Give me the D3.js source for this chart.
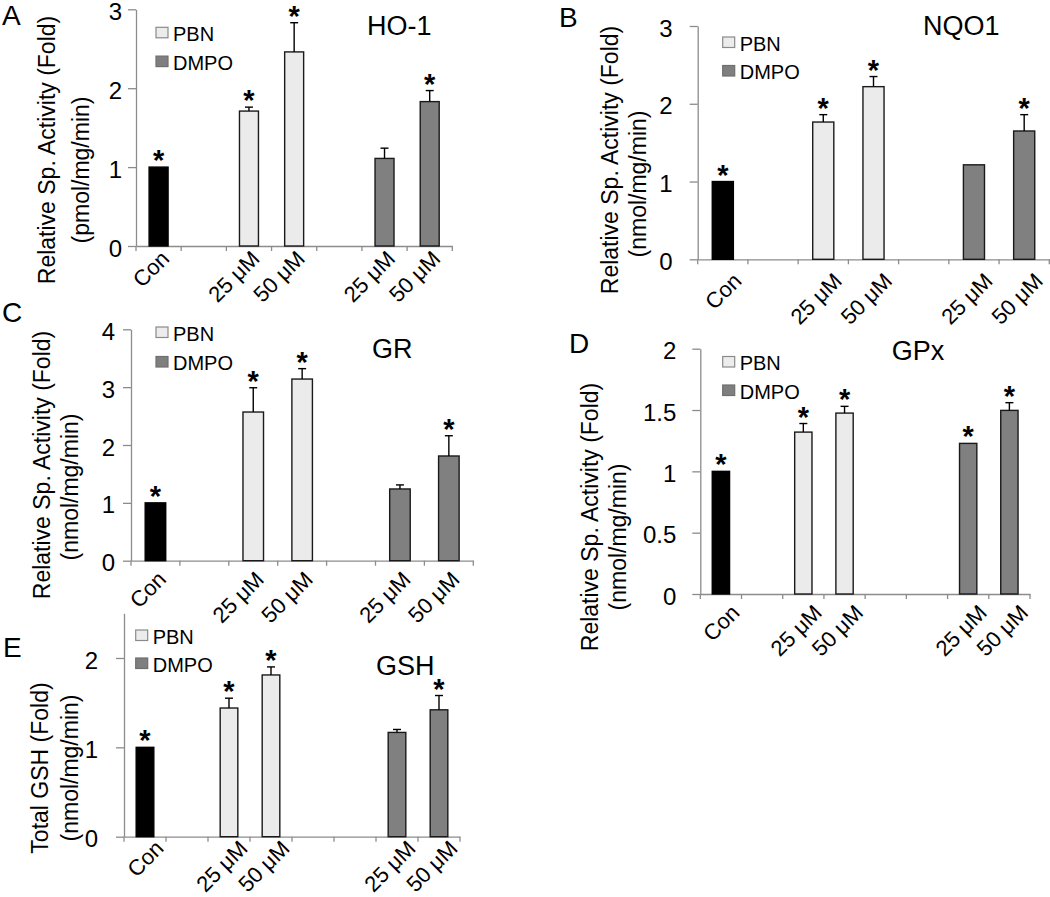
<!DOCTYPE html>
<html><head><meta charset="utf-8">
<script src="https://cdn.jsdelivr.net/npm/d3@7"></script>
<style>
body{margin:0;background:#fff}
svg{display:block}
text{font-family:"Liberation Sans", Arial, sans-serif; fill:#000}
</style>
</head><body>
<svg id="chart" width="1050" height="897"></svg>
<script>
// ---------- data ----------
const catsSeven = ["Con", "", "25 μM", "50 μM", "", "25 μM", "50 μM"];
const groupsSeven = ["Con", "", "PBN", "PBN", "", "DMPO", "DMPO"];
const catsEight = ["Con", "", "25 μM", "50 μM", "", "", "25 μM", "50 μM"];
const groupsEight = ["Con", "", "PBN", "PBN", "", "", "DMPO", "DMPO"];
const legendLabels = ["PBN", "DMPO"];

const ho1Values = [1.00, null, 1.71, 2.46, null, 1.11, 1.83];
const ho1Errors = [0, null, 0.05, 0.37, null, 0.13, 0.14];
const ho1Stars  = [true, false, true, true, false, false, true];

const nqo1Values = [1.00, null, 1.765, 2.22, null, 1.215, 1.65];
const nqo1Errors = [0, null, 0.095, 0.13, null, 0, 0.21];
const nqo1Stars  = [true, false, true, true, false, false, true];

const grValues = [1.00, null, 2.57, 3.14, null, 1.24, 1.81];
const grErrors = [0, null, 0.42, 0.18, null, 0.07, 0.35];
const grStars  = [true, false, true, true, false, false, true];

const gpxValues = [1.00, null, 1.32, 1.475, null, null, 1.228, 1.497];
const gpxErrors = [0, null, 0.07, 0.055, null, null, 0, 0.063];
const gpxStars  = [true, false, true, true, false, false, true, true];

const gshValues = [1.00, null, 1.44, 1.81, null, null, 1.167, 1.42];
const gshErrors = [0, null, 0.11, 0.09, null, null, 0.033, 0.16];
const gshStars  = [true, false, true, true, false, false, false, true];

const ticksHO1 = [0, 1, 2, 3];
const ticksNQO1 = [0, 1, 2, 3];
const ticksGR = [0, 1, 2, 3, 4];
const ticksGPx = [0, 0.5, 1, 1.5, 2];
const ticksGSH = [0, 1, 2];

// ---------- styles ----------
const fills = {Con: "#000000", PBN: "#ebebeb", DMPO: "#808080"};
const strokes = {Con: "#000000", PBN: "#1a1a1a", DMPO: "#1a1a1a"};
const legFill = {PBN: "#ececec", DMPO: "#7f7f7f"};
const legStroke = {PBN: "#8a8a8a", DMPO: "#6e6e6e"};
const axisColor = "#8c8c8c";

const panels = [
  {letter:"A", title:"HO-1", cats:catsSeven, groups:groupsSeven, values:ho1Values, errors:ho1Errors, stars:ho1Stars,
   ticks:ticksHO1, yMax:3, yLabel:["Relative Sp. Activity (Fold)", "(pmol/mg/min)"],
   L:{x0:136, x1:452.3, y0:246, y1:9.3, gap:14, letter:[2,25], title:[367,35], leg:[156,27.3,28.8],
      yl:[[47,150],[81,170]], xl:[12,14]}},
  {letter:"B", title:"NQO1", cats:catsSeven, groups:groupsSeven, values:nqo1Values, errors:nqo1Errors, stars:nqo1Stars,
   ticks:ticksNQO1, yMax:3, yLabel:["Relative Sp. Activity (Fold)", "(nmol/mg/min)"],
   L:{x0:697.7, x1:1049.3, y0:259.3, y1:26, gap:25, letter:[559,27], title:[923,35], leg:[722.7,37,28.5],
      yl:[[610,160],[638,184]], xl:[20,23]}},
  {letter:"C", title:"GR", cats:catsSeven, groups:groupsSeven, values:grValues, errors:grErrors, stars:grStars,
   ticks:ticksGR, yMax:4, yLabel:["Relative Sp. Activity (Fold)", "(nmol/mg/min)"],
   L:{x0:131, x1:473.3, y0:560.7, y1:329.3, gap:16, letter:[2,322], title:[372,358], leg:[156,327,29.5],
      yl:[[42,465],[70,487]], xl:[12,20]}},
  {letter:"D", title:"GPx", cats:catsEight, groups:groupsEight, values:gpxValues, errors:gpxErrors, stars:gpxStars,
   ticks:ticksGPx, yMax:2, yLabel:["Relative Sp. Activity (Fold)", "(nmol/mg/min)"],
   L:{x0:700.3, x1:1030, y0:594, y1:348.7, gap:24, letter:[569,353], title:[891.7,360], leg:[722.7,356.5,28.5],
      yl:[[590,517],[618,537]], xl:[20,20]}},
  {letter:"E", title:"GSH", cats:catsEight, groups:groupsEight, values:gshValues, errors:gshErrors, stars:gshStars,
   ticks:ticksGSH, yMax:2.5, yLabel:["Total GSH (Fold)", "(nmol/mg/min)"],
   L:{x0:124, x1:460, y0:836.7, y1:613.3, gap:26, letter:[3,657], title:[376,675], leg:[135.7,630,28],
      yl:[[40,768],[70,768]], xl:[20,13]}}
];

const svg = d3.select("#chart");
svg.append("rect").attr("width", 1050).attr("height", 897).attr("fill", "#fff");

panels.forEach(p => {
  const L = p.L;
  const g = svg.append("g");
  const n = p.cats.length;
  const x = d3.scaleBand().domain(d3.range(n)).range([L.x0, L.x1]).paddingInner(0).paddingOuter(0);
  const y = d3.scaleLinear().domain([0, p.yMax]).range([L.y0, L.y1]);
  const bw = x.bandwidth() * 0.42;

  // y axis
  const ya = g.append("g").attr("transform", `translate(${L.x0},0)`)
    .call(d3.axisLeft(y).tickValues(p.ticks).tickSize(8).tickSizeOuter(0).tickPadding(L.gap - 8).tickFormat(d => String(d)));
  ya.select(".domain").attr("stroke", axisColor).attr("stroke-width", 1.3);
  ya.selectAll(".tick line").attr("stroke", axisColor).attr("stroke-width", 1.3);
  ya.selectAll(".tick text").attr("font-size", 24).attr("dy", "0.42em")
    .attr("font-family", '"Liberation Sans", Arial, sans-serif').attr("fill", "#000");

  // x axis
  const xa = g.append("g").attr("transform", `translate(0,${L.y0})`)
    .call(d3.axisBottom(x).tickSize(0).tickSizeOuter(0).tickFormat(""));
  xa.select(".domain").attr("stroke", axisColor).attr("stroke-width", 1.3);
  const bounds = d3.range(n + 1).map(i => i < n ? x(i) : x(n - 1) + x.bandwidth());
  g.selectAll(".xb").data(bounds).join("line")
    .attr("x1", d => d).attr("x2", d => d).attr("y1", L.y0).attr("y2", L.y0 + 5)
    .attr("stroke", axisColor).attr("stroke-width", 1.3);

  // x labels
  p.cats.forEach((c, i) => {
    if (!c) return;
    const cx = x(i) + x.bandwidth() / 2 + L.xl[0];
    const cy = L.y0 + L.xl[1];
    g.append("text").attr("transform", `translate(${cx},${cy}) rotate(-45)`)
      .attr("text-anchor", "end").attr("font-size", 22).text(c);
  });

  // bars
  const data = p.values.map((v, i) => ({v, e: p.errors[i], s: p.stars[i], grp: p.groups[i], i})).filter(d => d.v != null);
  g.selectAll(".bar").data(data).join("rect")
    .attr("x", d => x(d.i) + (x.bandwidth() - bw) / 2)
    .attr("y", d => y(d.v))
    .attr("width", bw)
    .attr("height", d => y(0) - y(d.v))
    .attr("fill", d => fills[d.grp])
    .attr("stroke", d => strokes[d.grp])
    .attr("stroke-width", 1.4);

  // error bars
  data.filter(d => d.e > 0).forEach(d => {
    const cx = x(d.i) + x.bandwidth() / 2;
    g.append("line").attr("x1", cx).attr("x2", cx).attr("y1", y(d.v)).attr("y2", y(d.v + d.e))
      .attr("stroke", "#000").attr("stroke-width", 1.4);
    g.append("line").attr("x1", cx - 4).attr("x2", cx + 4).attr("y1", y(d.v + d.e)).attr("y2", y(d.v + d.e))
      .attr("stroke", "#000").attr("stroke-width", 1.4);
  });

  // stars
  data.filter(d => d.s).forEach(d => {
    const cx = x(d.i) + x.bandwidth() / 2;
    g.append("text").attr("x", cx).attr("y", y(d.v + (d.e || 0)) + 3)
      .attr("text-anchor", "middle").attr("font-size", 29).attr("font-weight", "bold").text("*");
  });

  // legend
  legendLabels.forEach((lab, k) => {
    const ly = L.leg[1] + k * L.leg[2];
    g.append("rect").attr("x", L.leg[0]).attr("y", ly).attr("width", 12).attr("height", 10.5)
      .attr("fill", legFill[lab]).attr("stroke", legStroke[lab]).attr("stroke-width", 1.2);
    g.append("text").attr("x", L.leg[0] + 17).attr("y", ly + 13.8).attr("font-size", 20).text(lab);
  });

  // title and panel letter
  g.append("text").attr("x", L.title[0]).attr("y", L.title[1]).attr("font-size", 27).text(p.title);
  g.append("text").attr("x", L.letter[0]).attr("y", L.letter[1]).attr("font-size", 28).text(p.letter);

  // y label lines
  p.yLabel.forEach((t, k) => {
    g.append("text").attr("transform", `translate(${L.yl[k][0]},${L.yl[k][1]}) rotate(-90)`)
      .attr("text-anchor", "middle").attr("dy", "0.35em").attr("font-size", 23).text(t);
  });
});
</script>
</body></html>
